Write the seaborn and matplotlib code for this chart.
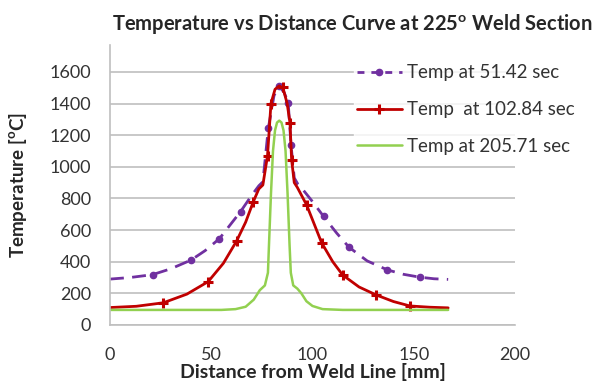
import numpy as np
import pandas as pd
import matplotlib
matplotlib.use('Agg')
import matplotlib.pyplot as plt
from matplotlib.lines import Line2D
import seaborn as sns

sns.set_style('white')
plt.rcParams['font.family'] = ['Lato', 'DejaVu Sans']
plt.rcParams['mathtext.fontset'] = 'custom'
plt.rcParams['mathtext.rm'] = 'Lato'
plt.rcParams['mathtext.bf'] = 'Lato:bold'

# curve at 51.42 sec (purple, dashed)
x_51 = [0, 10, 21, 30, 40, 47, 54, 64.5, 70, 73.5, 75.5, 78.2, 81, 83.5, 86, 88, 89.4, 91, 92.8, 94, 100, 105.5, 112, 118, 127, 137, 145, 153, 160, 167]
t_51 = [290, 300, 318, 355, 410, 470, 545, 717, 820, 880, 905, 1245, 1450, 1512, 1470, 1406, 1139, 930, 890, 876, 780, 686, 580, 492, 405, 348, 320, 302, 292, 288]
mx_51 = [21, 40, 54, 64.5, 78.2, 83.5, 88, 89.4, 105.5, 118, 137, 153]
mt_51 = [318, 410, 545, 717, 1245, 1512, 1406, 1139, 686, 492, 348, 302]

# curve at 102.84 sec (red, solid)
x_102 = [0, 13, 26.3, 38, 48.5, 56, 62.5, 67, 70.8, 73.5, 75.5, 77.8, 79.5, 81.5, 83.6, 85.5, 87.5, 88.9, 89.7, 91, 92.5, 97.1, 104.5, 110, 114.9, 123, 131.4, 140, 148.1, 158, 167]
t_102 = [110, 118, 140, 195, 274, 390, 530, 650, 780, 860, 885, 1070, 1400, 1490, 1512, 1495, 1400, 1276, 1044, 900, 870, 759, 520, 400, 316, 240, 190, 148, 120, 112, 108]
mx_102 = [26.3, 48.5, 62.5, 70.8, 77.8, 79.5, 85.3, 88.9, 89.7, 97.1, 104.5, 114.9, 131.4, 148.1]
mt_102 = [140, 274, 530, 780, 1070, 1400, 1504, 1276, 1044, 759, 520, 316, 190, 120]

# curve at 205.71 sec (green, no markers)
x_205 = [0, 55, 62, 67, 71, 74, 76.5, 78.0, 78.5, 79.5, 80.5, 81.5, 82.5, 83.6, 84.7, 85.7, 86.7, 87.7, 88.7, 89.3, 90.5, 92.5, 94.5, 97, 100, 105, 115, 167]
t_205 = [95, 95, 100, 115, 160, 220, 250, 330, 500, 830, 1100, 1230, 1280, 1292, 1280, 1230, 1100, 830, 500, 330, 250, 230, 200, 150, 120, 100, 95, 95]

labels = ['Temp at 51.42 sec', 'Temp  at 102.84 sec', 'Temp at 205.71 sec']
colors = ['#7030A0', '#C00000', '#92D050']

df51 = pd.DataFrame({'x': x_51, 't': t_51})
df102 = pd.DataFrame({'x': x_102, 't': t_102})
df205 = pd.DataFrame({'x': x_205, 't': t_205})

fig = plt.figure(figsize=(6, 3.85), dpi=100)
ax = fig.add_axes([0.1833, 0.156, 0.675, 0.727])

ax.yaxis.grid(True, color='#BFBFBF', linewidth=1.2)
ax.set_axisbelow(True)

sns.lineplot(data=df51, x='x', y='t', ax=ax, color=colors[0], linewidth=2.0,
             sort=False, estimator=None)
ax.lines[-1].set_dashes([5, 3])
ax.plot(mx_51, mt_51, linestyle='none', marker='o', markersize=4.5, color=colors[0])

sns.lineplot(data=df102, x='x', y='t', ax=ax, color=colors[1], linewidth=2.0,
             sort=False, estimator=None)
ax.plot(mx_102, mt_102, linestyle='none', marker='+', markersize=7, mew=2.2, color=colors[1])

sns.lineplot(data=df205, x='x', y='t', ax=ax, color=colors[2], linewidth=1.8,
             sort=False, estimator=None)

ax.set_xlim(0, 200)
ax.set_ylim(0, 1770)
ax.set_xticks([0, 50, 100, 150, 200])
ax.set_yticks(range(0, 1601, 200))
ax.tick_params(axis='x', length=0, pad=16, labelsize=13)
ax.tick_params(axis='y', length=0, pad=13.5, labelsize=13)
for lab in ax.get_xticklabels() + ax.get_yticklabels():
    lab.set_color('#333333')

for s in ['top', 'right']:
    ax.spines[s].set_visible(False)
for s in ['left', 'bottom']:
    ax.spines[s].set_color('#BFBFBF')
    ax.spines[s].set_linewidth(1.2)

ax.set_xlabel('Distance from Weld Line [mm]', fontsize=14, fontweight='bold', labelpad=0)
ax.set_ylabel(r'Temperature [$^{\mathbf{o}}$C]', fontsize=13.5, fontweight='bold')
ax.yaxis.set_label_coords(-0.2, 0.5)
fig.text(0.587, 0.937, r'Temperature vs Distance Curve at 225$^{\mathbf{o}}$ Weld Section',
         ha='center', va='center', fontsize=14.5, fontweight='bold')

handles = [
    Line2D([], [], color=colors[0], linewidth=2.0, dashes=[2.5, 2.5], marker='o', markersize=4.5),
    Line2D([], [], color=colors[1], linewidth=2.0, marker='+', markersize=7, mew=2.2),
    Line2D([], [], color=colors[2], linewidth=1.8),
]
leg = fig.legend(handles, labels, loc='upper left', bbox_to_anchor=(0.59, 0.84),
                 frameon=True, fontsize=13.5, handlelength=2.4, handletextpad=0.27,
                 labelspacing=1.05, borderpad=0.15, borderaxespad=0)
leg.get_frame().set_facecolor('white')
leg.get_frame().set_edgecolor('white')
leg.get_frame().set_boxstyle('square', pad=0)
for t in leg.get_texts():
    t.set_color('#333333')

fig.savefig('out.png', dpi=100)
